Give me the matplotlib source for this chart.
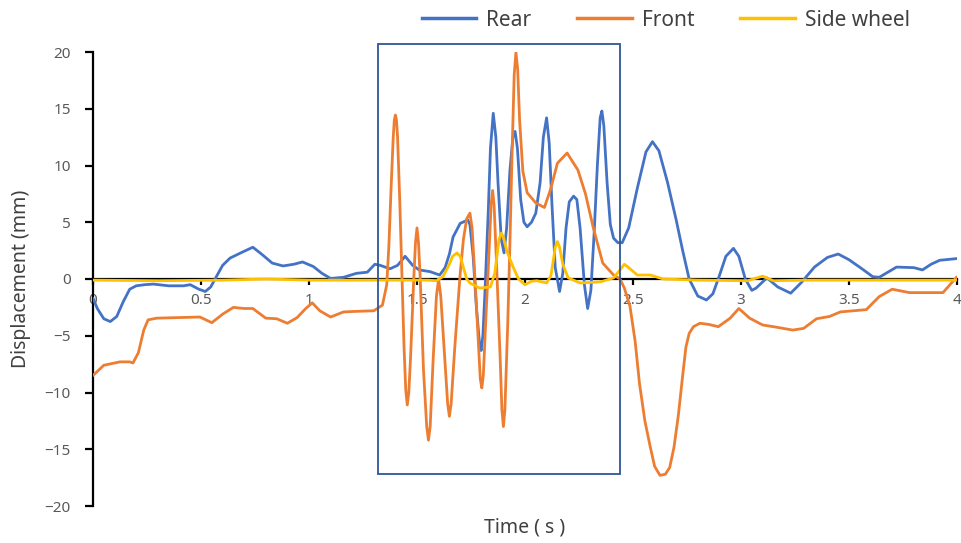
import matplotlib
matplotlib.use("Agg")
import matplotlib.pyplot as plt
from matplotlib.patches import Rectangle
from matplotlib.lines import Line2D

# ---- data ----
rear_t = [0.00, 0.02, 0.05, 0.08, 0.11, 0.14, 0.17, 0.20, 0.24, 0.28, 0.35, 0.42, 0.45, 0.49, 0.52,
          0.545, 0.565, 0.60, 0.635, 0.695, 0.74, 0.78, 0.83, 0.88, 0.93, 0.97, 1.02, 1.06, 1.10,
          1.16, 1.22, 1.27, 1.29, 1.305, 1.33, 1.375, 1.41, 1.445, 1.48, 1.51, 1.56, 1.605, 1.63,
          1.65, 1.667, 1.70, 1.735, 1.745, 1.76, 1.775, 1.79, 1.797, 1.805, 1.815, 1.83, 1.84,
          1.853, 1.865, 1.875, 1.89, 1.903, 1.915, 1.93, 1.944, 1.954, 1.965, 1.98, 1.995, 2.01,
          2.03, 2.05, 2.07, 2.085, 2.10, 2.112, 2.125, 2.14, 2.16, 2.175, 2.19, 2.205, 2.225, 2.24,
          2.255, 2.275, 2.29, 2.305, 2.32, 2.335, 2.348, 2.356, 2.365, 2.38, 2.395, 2.41, 2.43,
          2.45, 2.48, 2.52, 2.56, 2.59, 2.62, 2.66, 2.70, 2.73, 2.76, 2.80, 2.84, 2.87, 2.90, 2.93,
          2.965, 2.99, 3.02, 3.05, 3.07, 3.12, 3.17, 3.23, 3.28, 3.34, 3.40, 3.45, 3.50, 3.56, 3.61,
          3.64, 3.68, 3.72, 3.80, 3.84, 3.88, 3.92, 4.00]
rear_v = [-1.7, -2.6, -3.5, -3.75, -3.3, -2.0, -0.9, -0.6, -0.5, -0.45, -0.6, -0.6, -0.5, -0.9, -1.1,
          -0.7, 0.0, 1.2, 1.85, 2.4, 2.8, 2.2, 1.4, 1.15, 1.3, 1.5, 1.1, 0.5, 0.05,
          0.15, 0.5, 0.6, 1.0, 1.3, 1.2, 0.9, 1.2, 2.0, 1.2, 0.8, 0.65, 0.35, 1.0,
          2.2, 3.7, 4.9, 5.2, 4.8, 2.0, -2.5, -5.8, -6.3, -5.0, -1.0, 6.0, 11.5,
          14.6, 12.5, 8.5, 3.5, 2.3, 4.5, 9.5, 12.5, 13.0, 11.5, 7.0, 5.0, 4.6,
          5.0, 5.8, 8.5, 12.5, 14.2, 12.0, 6.5, 1.0, -1.1, 0.5, 4.5, 6.8, 7.3, 7.0,
          4.5, -0.5, -2.6, -1.0, 4.0, 10.0, 14.2, 14.8, 13.5, 8.5, 4.8, 3.6, 3.2,
          3.2, 4.5, 8.0, 11.2, 12.1, 11.3, 8.5, 5.2, 2.5, 0.0, -1.5, -1.85, -1.3, 0.3, 2.0,
          2.7, 2.0, 0.0, -1.0, -0.8, 0.1, -0.7, -1.25, -0.3, 1.05, 1.9, 2.2, 1.7, 0.9, 0.2,
          0.15, 0.6, 1.05, 1.0, 0.8, 1.3, 1.65, 1.8]

front_t = [0.00, 0.05, 0.125, 0.17, 0.185, 0.21, 0.235, 0.255, 0.295, 0.40, 0.495, 0.55, 0.60,
           0.65, 0.70, 0.74, 0.80, 0.85, 0.90, 0.945, 0.985, 1.015, 1.05, 1.10, 1.16, 1.22, 1.30,
           1.34, 1.36, 1.37, 1.38, 1.39, 1.395, 1.40, 1.405, 1.41, 1.42, 1.43, 1.44, 1.448, 1.455,
           1.462, 1.47, 1.485, 1.493, 1.50, 1.507, 1.515, 1.53, 1.545, 1.553, 1.561, 1.575, 1.59,
           1.60, 1.61, 1.625, 1.642, 1.65, 1.658, 1.675, 1.70, 1.715, 1.73, 1.745, 1.755, 1.77,
           1.785, 1.793, 1.80, 1.807, 1.82, 1.835, 1.843, 1.85, 1.857, 1.87, 1.885, 1.893, 1.90,
           1.907, 1.92, 1.93, 1.94, 1.95, 1.958, 1.966, 1.975, 1.99, 2.01, 2.05, 2.09, 2.12, 2.15,
           2.195, 2.245, 2.28, 2.315, 2.36, 2.41, 2.44, 2.46, 2.486, 2.51, 2.53, 2.555, 2.58, 2.60,
           2.625, 2.65, 2.67, 2.69, 2.71, 2.73, 2.745, 2.76, 2.78, 2.81, 2.85, 2.895, 2.95, 2.99,
           3.04, 3.10, 3.165, 3.24, 3.29, 3.35, 3.41, 3.46, 3.58, 3.64, 3.70, 3.78, 3.84, 3.935,
           4.00]
front_v = [-8.5, -7.6, -7.3, -7.3, -7.4, -6.5, -4.5, -3.6, -3.45, -3.4, -3.35, -3.85, -3.1,
           -2.5, -2.6, -2.6, -3.45, -3.5, -3.9, -3.4, -2.6, -2.1, -2.8, -3.35, -2.9, -2.85, -2.8,
           -2.3, -0.5, 3.0, 8.0, 12.5, 14.0, 14.45, 14.0, 12.5, 7.0, 0.5, -6.0, -9.8, -11.1,
           -10.0, -7.0, 0.0, 3.2, 4.5, 3.2, 0.0, -8.0, -13.0, -14.2, -13.0, -7.0, -1.5,
           0.0, -1.5, -6.0, -11.0, -12.1, -11.0, -6.0, 0.5, 3.5, 5.3, 5.8, 4.5, -0.5,
           -6.0, -8.8, -9.6, -8.5, -3.0, 3.0, 6.5, 7.8, 6.5, 0.5, -7.0, -11.5, -13.0,
           -11.5, -4.0, 3.0, 11.0, 18.0, 19.95, 18.5, 14.0, 9.5, 7.6, 6.7, 6.3, 8.0, 10.2,
           11.1, 9.6, 7.5, 4.6, 1.4, 0.35, 0.0, -0.8, -2.4, -5.5, -9.2, -12.5, -14.8, -16.5,
           -17.3, -17.2, -16.6, -14.8, -12.0, -8.5, -6.0, -4.8, -4.2, -3.9, -4.0, -4.2, -3.45, -2.6,
           -3.45, -4.05, -4.25, -4.5, -4.35, -3.5, -3.3, -2.9, -2.7, -1.55, -0.9, -1.2, -1.2, -1.2,
           0.2]

side_t = [0.00, 0.30, 0.60, 0.80, 1.00, 1.30, 1.55, 1.59, 1.62, 1.65, 1.665, 1.685, 1.70, 1.715,
          1.73, 1.745, 1.79, 1.84, 1.86, 1.87, 1.88, 1.89, 1.90, 1.915, 1.945, 1.97, 2.00, 2.03,
          2.055, 2.10, 2.12, 2.13, 2.14, 2.15, 2.16, 2.175, 2.20, 2.255, 2.35, 2.41, 2.44, 2.46,
          2.48, 2.52, 2.58, 2.64, 2.80, 3.03, 3.10, 3.15, 3.30, 3.60, 4.00]
side_v = [-0.1, -0.15, -0.1, 0.0, -0.1, -0.1, -0.1, -0.15, 0.2, 1.3, 2.0, 2.3, 2.0, 1.0,
          0.0, -0.35, -0.8, -0.7, 0.5, 2.0, 3.5, 4.05, 3.7, 2.5, 1.05, 0.0, -0.5, -0.2,
          -0.15, -0.35, 0.3, 1.5, 2.8, 3.3, 2.8, 1.3, 0.1, -0.35, -0.25, 0.1, 0.8, 1.3,
          1.0, 0.35, 0.35, 0.0, -0.1, -0.15, 0.25, -0.15, -0.1, -0.1, -0.1]

series_names = ["Rear", "Front", "Side wheel"]
series_colors = ["#4472C4", "#ED7D31", "#FFC000"]
x_ticks = [0, 0.5, 1, 1.5, 2, 2.5, 3, 3.5, 4]
x_tick_labels = ["0", "0.5", "1", "1.5", "2", "2.5", "3", "3.5", "4"]
y_ticks = [-20, -15, -10, -5, 0, 5, 10, 15, 20]
box_x = [1.32, 2.44]
box_y = [-17.2, 20.7]

plt.rcParams['font.family'] = ['Noto Sans', 'DejaVu Sans']

fig = plt.figure(figsize=(9.62, 5.43), dpi=100)
ax = fig.add_axes([93/962, 1 - 506/543, (957 - 93)/962, (506 - 52)/543])

lw = 2.0
ax.plot(rear_t, rear_v, color=series_colors[0], lw=lw, zorder=3,
        solid_joinstyle='round', solid_capstyle='round')
ax.plot(front_t, front_v, color=series_colors[1], lw=lw, zorder=4,
        solid_joinstyle='round', solid_capstyle='round')
ax.plot(side_t, side_v, color=series_colors[2], lw=lw, zorder=5,
        solid_joinstyle='round', solid_capstyle='round')

ax.set_xlim(0, 4)
ax.set_ylim(-20, 20)

for s in ['top', 'right']:
    ax.spines[s].set_visible(False)
ax.spines['bottom'].set_position(('data', 0))
ax.spines['bottom'].set_zorder(2)
ax.spines['bottom'].set_linewidth(1.6)
ax.spines['left'].set_linewidth(1.6)

ax.set_xticks(x_ticks)
ax.set_xticklabels(x_tick_labels)
ax.set_yticks(y_ticks)
ax.tick_params(axis='x', direction='out', length=4, width=1.6, pad=6, labelsize=11,
               labelcolor='#595959')
ax.tick_params(axis='y', direction='out', length=6, width=1.6, pad=10, labelsize=11,
               labelcolor='#595959')

ax.set_ylabel("Displacement (mm)", fontsize=14, color='#404040', labelpad=10)
fig.text(525/962, 1 - 528/543, "Time ( s )", fontsize=14, color='#404040',
         ha='center', va='center')

rect = Rectangle((box_x[0], box_y[0]), box_x[1] - box_x[0], box_y[1] - box_y[0],
                 fill=False, edgecolor='#2F5597', lw=1.3, clip_on=False, zorder=6)
ax.add_patch(rect)

handles = [Line2D([0], [0], color=c, lw=2.5) for c in series_colors]
fig.legend(handles, series_names, loc='center', bbox_to_anchor=(666/962, 1 - 20/543),
           ncol=3, frameon=False, fontsize=15, handlelength=2.6, columnspacing=2.2,
           handletextpad=0.5, labelcolor='#404040')

fig.savefig("out.png", dpi=100)
